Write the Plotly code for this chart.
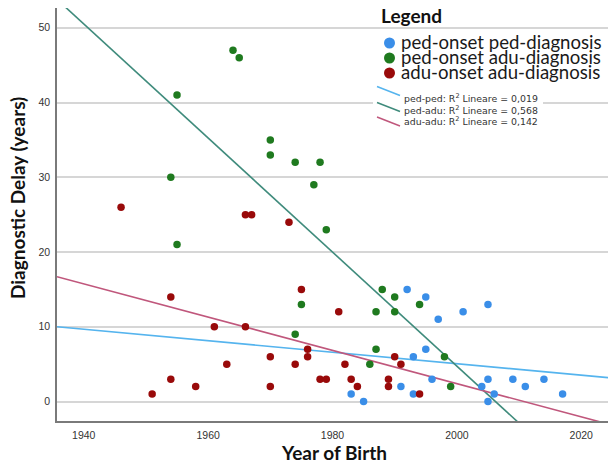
import plotly.graph_objects as go

# ---------------- data ----------------
ped_ped_year = [1992, 1995, 2005, 2001, 1997, 1995, 1993, 1996, 2005, 2009, 2014,
                1991, 2004, 2011, 1983, 1993, 2006, 2017, 1985, 2005]
ped_ped_delay = [15, 14, 13, 12, 11, 7, 6, 3, 3, 3, 3,
                 2, 2, 2, 1, 1, 1, 1, 0, 0]

ped_adu_year = [1964, 1965, 1955, 1970, 1970, 1974, 1978, 1977, 1954, 1979, 1955,
                1975, 1974, 1988, 1990, 1994, 1987, 1990, 1987, 1998, 1986, 1999]
ped_adu_delay = [47, 46, 41, 35, 33, 32, 32, 29, 30, 23, 21,
                 13, 9, 15, 14, 13, 12, 12, 7, 6, 5, 2]

adu_adu_year = [1946, 1966, 1967, 1973, 1975, 1981, 1954, 1961, 1966, 1976, 1976,
                1970, 1974, 1963, 1954, 1978, 1979, 1958, 1970, 1951, 1990, 1982,
                1991, 1983, 1989, 1984, 1989, 1994]
adu_adu_delay = [26, 25, 25, 24, 15, 12, 14, 10, 10, 7, 6,
                 6, 5, 5, 3, 3, 3, 2, 2, 1, 6, 5,
                 5, 3, 3, 2, 2, 1]

# fitted lines (values at the two ends of the x range)
fit_x = [1935.7, 2024.3]
fit_ped_ped = [10.0, 3.2]
fit_ped_adu = [53.8, -13.8]
fit_adu_adu = [16.7, -3.0]

series_names = ["ped-onset ped-diagnosis", "ped-onset adu-diagnosis", "adu-onset adu-diagnosis"]
fit_labels = ["ped-ped: R<sup>2</sup> Lineare = 0,019",
              "ped-adu: R<sup>2</sup> Lineare = 0,568",
              "adu-adu: R<sup>2</sup> Lineare = 0,142"]

x_ticks = [1940, 1960, 1980, 2000, 2020]
y_ticks = [0, 10, 20, 30, 40, 50]

# ---------------- styling ----------------
C_BLUE, C_GREEN, C_RED = "#3a8ee8", "#1f7a1f", "#990a0a"
F_BLUE, F_GREEN, F_RED = "#55b4ee", "#3f8b7c", "#c0577c"

# the page has an 8px body margin, so the figure is drawn at (8, 8)
OFF = 8
W, H = 608, 460
L, R, T, B = 49, 8, 0, 47
PW, PH = W - L - R, H - T - B


def px(x):  # x in screenshot pixels -> paper
    return (x - OFF - L) / PW


def py(y):  # y in screenshot pixels -> paper
    return (H - B - (y - OFF)) / PH


fig = go.Figure()

for xs, ys, col in [(fit_x, fit_ped_ped, F_BLUE), (fit_x, fit_ped_adu, F_GREEN),
                    (fit_x, fit_adu_adu, F_RED)]:
    fig.add_trace(go.Scatter(x=xs, y=ys, mode="lines", line=dict(color=col, width=1.6),
                             showlegend=False, hoverinfo="skip"))

for xs, ys, col, nm in [(ped_ped_year, ped_ped_delay, C_BLUE, series_names[0]),
                        (ped_adu_year, ped_adu_delay, C_GREEN, series_names[1]),
                        (adu_adu_year, adu_adu_delay, C_RED, series_names[2])]:
    fig.add_trace(go.Scatter(x=xs, y=ys, mode="markers", name=nm,
                             marker=dict(color=col, size=7.5, line=dict(width=0)),
                             showlegend=False))

shapes = []
annotations = []

# white box behind fit-line legend entries
shapes.append(dict(type="rect", xref="paper", yref="paper", layer="above",
                   x0=px(373), x1=px(543), y0=py(128), y1=py(84),
                   fillcolor="white", line=dict(width=0)))

# legend title
annotations.append(dict(text="<b>Legend</b>", xref="paper", yref="paper",
                        x=px(379), y=py(16), xanchor="left", yanchor="middle",
                        showarrow=False, font=dict(family="Lato", size=19, color="#111111")))

# marker legend entries
for i, (nm, col) in enumerate(zip(series_names, [C_BLUE, C_GREEN, C_RED])):
    cy = [43, 58, 73][i]
    r = 5.5
    shapes.append(dict(type="circle", xref="paper", yref="paper", layer="above",
                       x0=px(389.5 - r), x1=px(389.5 + r), y0=py(cy + r), y1=py(cy - r),
                       fillcolor=col, line=dict(width=0)))
    annotations.append(dict(text=nm, xref="paper", yref="paper",
                            x=px(399), y=py(cy - 1), xanchor="left", yanchor="middle",
                            showarrow=False,
                            font=dict(family="Lato", size=18.6, color="#1a1a1a")))

# fit-line legend entries
for i, (lab, col) in enumerate(zip(fit_labels, [F_BLUE, F_GREEN, F_RED])):
    y0 = [86.5, 102.5, 117.0][i]
    shapes.append(dict(type="line", xref="paper", yref="paper", layer="above",
                       x0=px(377), x1=px(400), y0=py(y0), y1=py(y0 + 9),
                       line=dict(color=col, width=1.5)))
    cy = [98.5, 110, 121.5][i]
    annotations.append(dict(text=lab, xref="paper", yref="paper",
                            x=px(402), y=py(cy), xanchor="left", yanchor="middle",
                            showarrow=False,
                            font=dict(family="DejaVu Sans", size=9.4, color="#333333")))

# axis titles
annotations.append(dict(text="<b>Year of Birth</b>", xref="paper", yref="paper",
                        x=px(334), y=py(453), xanchor="center", yanchor="middle",
                        showarrow=False, font=dict(family="Lato", size=19, color="#111111")))
annotations.append(dict(text="<b>Diagnostic Delay (years)</b>", xref="paper", yref="paper",
                        x=px(17.5), y=py(198.5), xanchor="center", yanchor="middle",
                        textangle=-90, showarrow=False,
                        font=dict(family="Lato", size=19, color="#111111")))

fig.update_layout(
    width=W, height=H,
    margin=dict(l=L, r=R, t=T, b=B),
    paper_bgcolor="white", plot_bgcolor="white",
    shapes=shapes, annotations=annotations,
    showlegend=False,
    xaxis=dict(range=[fit_x[0], fit_x[1]], tickvals=x_ticks, showgrid=False,
               zeroline=False, showline=True, linecolor="#7a7a7a", linewidth=1.5,
               ticks="", ticklabelstandoff=4,
               tickfont=dict(family="Liberation Sans", size=10.5, color="#333333")),
    yaxis=dict(range=[-2.6, 52.65], tickvals=y_ticks, showgrid=True,
               gridcolor="#d6d6d6", gridwidth=1.5,
               zeroline=False, showline=True, linecolor="#7a7a7a", linewidth=1.5,
               ticks="", ticklabelstandoff=3,
               tickfont=dict(family="Liberation Sans", size=10.5, color="#333333")),
)

fig.write_html("out.html")
